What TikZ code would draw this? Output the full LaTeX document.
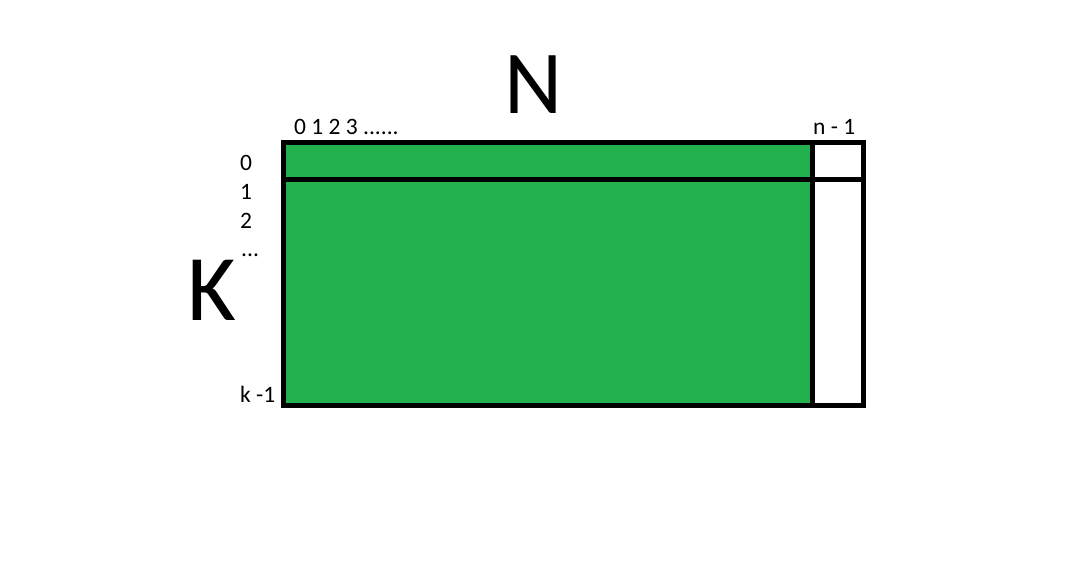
\documentclass[tikz,border=0pt]{standalone}
\usepackage{fontspec}
\setmainfont{Carlito}
\definecolor{paintgreen}{RGB}{34,177,76}
\begin{document}
\begin{tikzpicture}[x=1pt,y=-1pt,
  frame/.style={line width=5pt,draw=black},
  lbl/.style={inner sep=0pt,anchor=base west,font=\fontsize{23.5}{26}\selectfont},
  big/.style={inner sep=0pt,anchor=base,font=\fontsize{90}{100}\selectfont}]
\useasboundingbox (0,0) rectangle (1075,562);
% cells
\coordinate (tl) at (283,142);
\coordinate (br) at (863,405);
\coordinate (sepT) at (812,142);
\coordinate (sepB) at (812,405);
\coordinate (rowL) at (283,179);
\coordinate (rowR) at (863,179);
\fill[paintgreen] (tl) rectangle (sepB);
\draw[frame,line join=miter] (tl) rectangle (br);
\draw[frame] (rowL) -- (rowR);
\draw[frame] (sepT) -- (sepB);
% labels
\node[big] (N) at (534,113) {N};
\node[big,font=\fontsize{94}{100}\selectfont] (K) at (212,320) {K};
\node[lbl] (cols) at (294,134) {0 1 2 3 ......};
\node[lbl] (last) at (813,134) {n - 1};
\node[lbl] (r0) at (240,170) {0};
\node[lbl] (r1) at (240,199) {1};
\node[lbl] (r2) at (240,228) {2};
\node[lbl] (rd) at (241,256) {...};
\node[lbl] (rk) at (240,402) {k -1};
\end{tikzpicture}
\end{document}
